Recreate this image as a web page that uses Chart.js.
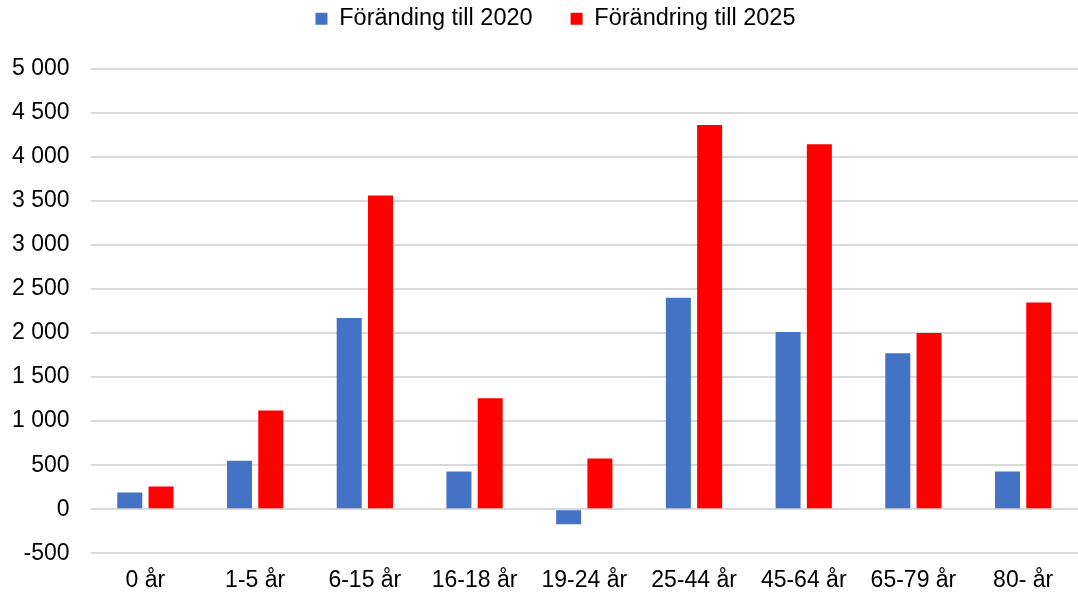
<!DOCTYPE html>
<html>
<head>
<meta charset="utf-8">
<script src="https://cdn.jsdelivr.net/npm/chart.js@4"></script>
<style>
  html, body { margin: 0; padding: 0; background: #fff; }
  #wrap { width: 1078px; height: 596px; position: relative; }
</style>
</head>
<body>
<div id="wrap"><canvas id="myBarChart"></canvas></div>
<script>
// Categories and values
var categories = ['0 år', '1-5 år', '6-15 år', '16-18 år', '19-24 år', '25-44 år', '45-64 år', '65-79 år', '80- år'];
var change2020 = [190, 550, 2170, 430, -170, 2400, 2010, 1770, 430];
var change2025 = [260, 1120, 3560, 1260, 575, 4360, 4140, 2000, 2345];
var seriesNames = ['Föränding till 2020', 'Förändring till 2025'];

// Format 5000 as "5 000"
function formatThousands(v) {
    return String(v).replace(/\B(?=(\d{3})+(?!\d))/g, ' ');
}

// Extra room below the legend, and nudge it a bit to the right
var legendMargin = {
    id: 'legendMargin',
    beforeInit: function(chart) {
        var fit = chart.legend.fit;
        chart.legend.fit = function() {
            fit.bind(chart.legend)();
            this.height += 28;
        };
    },
    afterLayout: function(chart) {
        chart.legend.left += 42;
    }
};

var ctx = document.getElementById('myBarChart').getContext('2d');

var myBarChart = new Chart(ctx, {
    type: 'bar',
    data: {
        labels: categories,
        datasets: [
            {
                label: seriesNames[0],
                data: change2020,
                backgroundColor: '#4472C4',
                barPercentage: 0.8,
                categoryPercentage: 0.57
            },
            {
                label: seriesNames[1],
                data: change2025,
                backgroundColor: '#FF0000',
                barPercentage: 0.8,
                categoryPercentage: 0.57
            }
        ]
    },
    plugins: [legendMargin],
    options: {
        responsive: true,
        maintainAspectRatio: false,
        animation: false,
        layout: {
            padding: { top: -31, right: 0, bottom: -11, left: -9 }
        },
        plugins: {
            tooltip: { enabled: false },
            legend: {
                position: 'top',
                labels: {
                    boxWidth: 12,
                    boxHeight: 12,
                    padding: 38,
                    color: '#000',
                    font: { family: 'Liberation Sans, Arial', size: 23.5 }
                }
            }
        },
        scales: {
            x: {
                grid: { display: false, drawTicks: false },
                border: { display: false },
                ticks: {
                    color: '#000',
                    padding: 13,
                    maxRotation: 0,
                    font: { family: 'Liberation Sans, Arial', size: 23 }
                }
            },
            y: {
                min: -500,
                max: 5000,
                grid: { color: '#d9d9d9', lineWidth: 2, drawTicks: false },
                border: { display: false },
                ticks: {
                    stepSize: 500,
                    color: '#000',
                    padding: 21,
                    font: { family: 'Liberation Sans, Arial', size: 23 },
                    callback: function(value) { return formatThousands(value); }
                }
            }
        }
    }
});
</script>
</body>
</html>
